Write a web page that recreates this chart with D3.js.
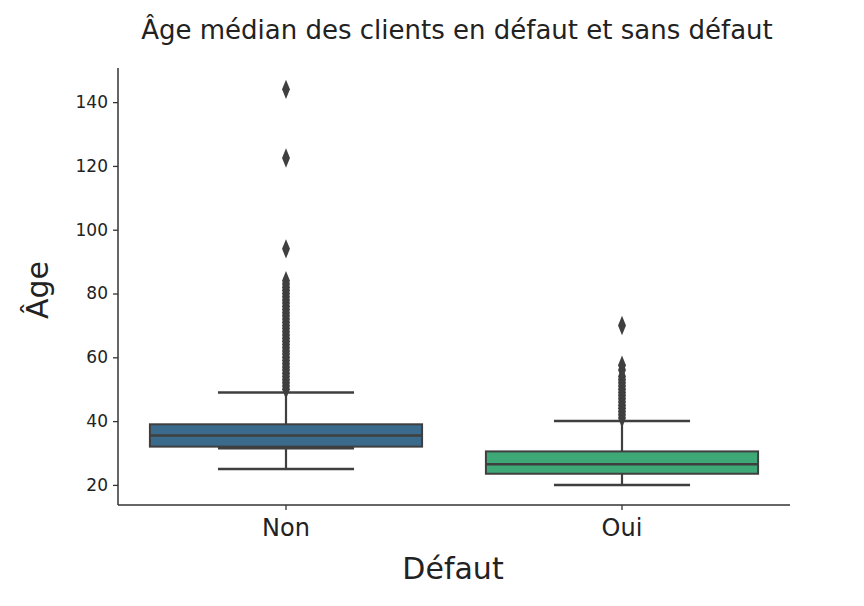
<!DOCTYPE html><html><head><meta charset="utf-8"><script src="https://cdn.jsdelivr.net/npm/d3@7"></script>
<style>body{margin:0;background:#fff}text{font-family:"DejaVu Sans",sans-serif}</style></head><body><svg id="c" width="864" height="606"></svg>
<script>
const categories=["Non","Oui"];
const q1=[32,23.5], median=[35.5,26.5], q3=[39,30.5];
const whiskLo=[25,20], whiskHi=[49,40];
const extraCap=[31.5,null];
const outliers=[
 [50,51,52,53,54,55,56,57,58,59,60,61,62,63,64,65,66,67,68,69,70,71,72,73,74,75,76,77,78,79,80,81,82,83,84,94,122.5,144],
 [41,42,43,44,45,46,47,48,49,50,51,52,53,54,56,57.5,70]];
const colors=["#3a6b8d","#3ea877"];
const yTicks=[20,40,60,80,100,120,140];
const svg=d3.select("#c");
const x=d3.scaleBand().domain(categories).range([118,790]);
const y=d3.scaleLinear().domain([13.7,150.7]).range([505,68]);
const ink="#3f3f3f";
categories.forEach((c,i)=>{
 const cx=x(c)+x.bandwidth()/2, bw=x.bandwidth()*0.81, cw=bw/2;
 const g=svg.append("g");
 g.append("line").attr("x1",cx).attr("x2",cx).attr("y1",y(whiskLo[i])).attr("y2",y(whiskHi[i])).attr("stroke",ink).attr("stroke-width",2.2);
 [whiskLo[i],whiskHi[i]].forEach(v=>g.append("line").attr("x1",cx-cw/2).attr("x2",cx+cw/2).attr("y1",y(v)).attr("y2",y(v)).attr("stroke",ink).attr("stroke-width",2.5));
 g.append("rect").attr("x",cx-bw/2).attr("width",bw).attr("y",y(q3[i])).attr("height",y(q1[i])-y(q3[i])).attr("fill",colors[i]).attr("stroke",ink).attr("stroke-width",2);
 if(extraCap[i]!=null) g.append("line").attr("x1",cx-cw/2).attr("x2",cx+cw/2).attr("y1",y(extraCap[i])).attr("y2",y(extraCap[i])).attr("stroke",ink).attr("stroke-width",2.5);
 g.append("line").attr("x1",cx-bw/2).attr("x2",cx+bw/2).attr("y1",y(median[i])).attr("y2",y(median[i])).attr("stroke",ink).attr("stroke-width",2.5);
 g.selectAll("path.o").data(outliers[i]).enter().append("path").attr("d",d3.symbol(d3.symbolDiamond,60)()).attr("transform",d=>`translate(${cx},${y(d)}) scale(0.95,1.35)`).attr("fill",ink);
});
const ya=svg.append("g").attr("transform","translate(118,0)").call(d3.axisLeft(y).tickValues(yTicks).tickSize(5).tickPadding(5));
const xa=svg.append("g").attr("transform","translate(0,505)").call(d3.axisBottom(x).tickSize(5).tickPadding(9));
[ya,xa].forEach(a=>{a.select(".domain").attr("stroke","#333").attr("stroke-width",1.5);a.selectAll(".tick line").attr("stroke","#333").attr("stroke-width",1.3);a.selectAll("text").attr("fill","#222");});
ya.select(".domain").attr("d","M0,68V505");xa.select(".domain").attr("d","M118,0H790");
ya.selectAll("text").attr("font-size",17);
xa.selectAll("text").attr("font-size",24);
svg.append("text").attr("x",457).attr("y",39).attr("text-anchor","middle").attr("font-size",26).attr("fill","#222").text("Âge médian des clients en défaut et sans défaut");
svg.append("text").attr("x",453).attr("y",579).attr("text-anchor","middle").attr("font-size",30).attr("fill","#222").text("Défaut");
svg.append("text").attr("transform","translate(48,290) rotate(-90)").attr("text-anchor","middle").attr("font-size",30).attr("fill","#222").text("Âge");
</script></body></html>
